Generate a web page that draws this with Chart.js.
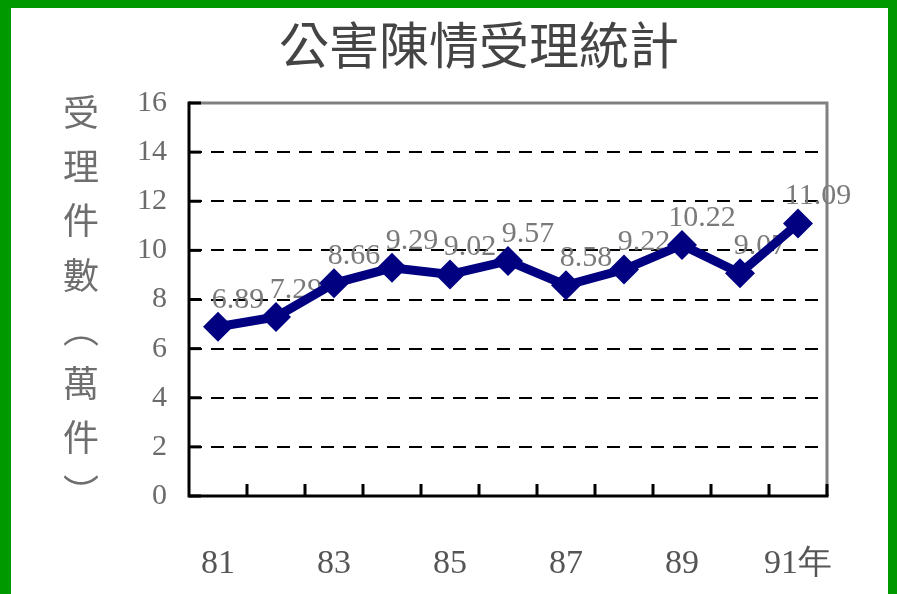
<!DOCTYPE html>
<html>
<head>
<meta charset="utf-8">
<title>公害陳情受理統計</title>
<script src="https://cdn.jsdelivr.net/npm/chart.js@4.4.1/dist/chart.umd.min.js"></script>
<style>
  html, body { margin: 0; padding: 0; background: #fff; }
  #frame {
    position: relative;
    width: 897px;
    height: 594px;
    box-sizing: border-box;
    border-left: 11px solid #009900;
    border-top: 8px solid #009900;
    border-right: 9px solid #009900;
  }
  #myChart { position: absolute; left: -11px; top: -8px; }
</style>
</head>
<body>
<div id="frame">
  <canvas id="myChart" width="897" height="594"></canvas>
</div>
<script>
// categories (民國年) and values (萬件)
const years = ["81", "82", "83", "84", "85", "86", "87", "88", "89", "90", "91年"];
const cases = [6.89, 7.29, 8.66, 9.29, 9.02, 9.57, 8.58, 9.22, 10.22, 9.07, 11.09];
const yTicks = [0, 2, 4, 6, 8, 10, 12, 14, 16];
const chartTitle = "公害陳情受理統計";
const yTitle = ["受", "理", "件", "數", "︵", "萬", "件", "︶"];

// draws grid, frame, axes, ticks, titles and value labels
const chrome = {
  id: "chrome",
  beforeDatasetsDraw(chart) {
    const { ctx, chartArea: a, scales: { x, y } } = chart;
    ctx.save();

    // dashed grid lines
    ctx.strokeStyle = "#000";
    ctx.lineWidth = 2;
    ctx.setLineDash([13, 9]);
    yTicks.forEach((v) => {
      if (v === 0 || v === 16) return;
      const py = Math.round(y.getPixelForValue(v));
      ctx.beginPath();
      ctx.moveTo(a.left, py);
      ctx.lineTo(a.right, py);
      ctx.stroke();
    });
    ctx.setLineDash([]);

    // gray top / right frame
    ctx.strokeStyle = "#808080";
    ctx.lineWidth = 3;
    ctx.beginPath();
    ctx.moveTo(a.left, a.top);
    ctx.lineTo(a.right, a.top);
    ctx.lineTo(a.right, a.bottom);
    ctx.stroke();

    // black axes
    ctx.strokeStyle = "#000";
    ctx.beginPath();
    ctx.moveTo(a.left, a.top - 1.5);
    ctx.lineTo(a.left, a.bottom);
    ctx.lineTo(a.right + 1.5, a.bottom);
    ctx.stroke();

    // y ticks, pointing into the plot
    yTicks.forEach((v) => {
      const py = y.getPixelForValue(v);
      ctx.beginPath();
      ctx.moveTo(a.left, py);
      ctx.lineTo(a.left + 12, py);
      ctx.stroke();
    });

    // x ticks at category boundaries
    for (let i = 1; i <= years.length; i++) {
      const px = i < years.length
        ? (x.getPixelForValue(i - 1) + x.getPixelForValue(i)) / 2
        : a.right;
      ctx.beginPath();
      ctx.moveTo(px, a.bottom);
      ctx.lineTo(px, a.bottom - 12);
      ctx.stroke();
    }

    // value labels (under the line)
    ctx.font = "30px 'Liberation Serif'";
    ctx.fillStyle = "#7a7a7a";
    ctx.textAlign = "center";
    ctx.textBaseline = "middle";
    chart.getDatasetMeta(0).data.forEach((pt, i) => {
      ctx.fillText(cases[i].toFixed(2), pt.x + 20, pt.y - 27);
    });

    ctx.restore();
  },
  afterDraw(chart) {
    const { ctx } = chart;
    ctx.save();
    ctx.textAlign = "center";
    ctx.textBaseline = "middle";

    // title
    ctx.font = "50px 'Noto Sans CJK TC'";
    ctx.fillStyle = "#444";
    ctx.fillText(chartTitle, 479, 45);

    // vertical y axis title
    ctx.font = "36px 'Noto Sans CJK TC'";
    ctx.fillStyle = "#6e6e6e";
    yTitle.forEach((ch, i) => {
      ctx.fillText(ch, 81, 112 + i * 54.3);
    });

    ctx.restore();
  }
};

const ctx = document.getElementById("myChart").getContext("2d");

const myChart = new Chart(ctx, {
  type: "line",
  data: {
    labels: years,
    datasets: [
      {
        label: chartTitle,
        data: cases,
        borderColor: "#000080",
        backgroundColor: "#000080",
        borderWidth: 9,
        tension: 0,
        pointStyle: "rectRot",
        pointRadius: 15,
        pointBorderWidth: 0,
        pointBackgroundColor: "#000080",
      },
    ],
  },
  options: {
    responsive: false,
    animation: false,
    layout: {
      padding: { top: 103, right: 70, bottom: 0, left: 0 },
    },
    plugins: {
      legend: { display: false },
      tooltip: { enabled: false },
      title: { display: false },
    },
    scales: {
      x: {
        offset: true,
        grid: { display: false, drawTicks: false },
        border: { display: false },
        afterFit: (s) => { s.height = 98; },
        ticks: {
          autoSkip: false,
          maxRotation: 0,
          padding: 48,
          color: "#555",
          font: { family: "'Liberation Serif'", size: 34 },
          callback: (val, i) => (i % 2 === 0 ? years[i] : ""),
        },
      },
      y: {
        min: 0,
        max: 16,
        grid: { display: false, drawTicks: false },
        border: { display: false },
        afterFit: (s) => { s.width = 189; },
        ticks: {
          stepSize: 2,
          padding: 22,
          color: "#6b6b6b",
          font: { family: "'Liberation Serif'", size: 30 },
        },
      },
    },
  },
  plugins: [chrome],
});
</script>
</body>
</html>
